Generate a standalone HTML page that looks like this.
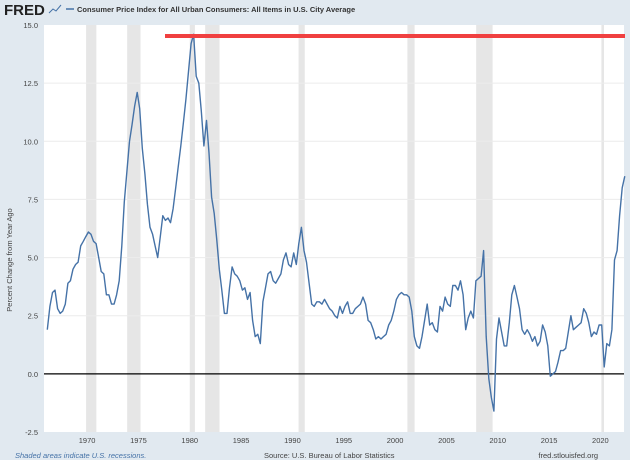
<!DOCTYPE html>
<html><head><meta charset="utf-8"><style>
body{margin:0;background:#e1e9f0;font-family:"Liberation Sans",sans-serif;}
#wrap{position:relative;width:630px;height:460px;overflow:hidden;background:#e1e9f0;}
</style></head><body>
<div id="wrap">
<svg id="chart" width="630" height="460"></svg>
</div>
<script>
const yTicks=[-2.5,0,2.5,5,7.5,10,12.5,15];
const yTickLabels=["-2.5","0.0","2.5","5.0","7.5","10.0","12.5","15.0"];
const xTicks=[1970,1975,1980,1985,1990,1995,2000,2005,2010,2015,2020];
const recessions=[[1969.9,1970.9],[1973.9,1975.2],[1980.0,1980.5],[1981.5,1982.9],[1990.6,1991.2],[2001.2,2001.9],[2007.9,2009.5],[2020.1,2020.35]];
const startYear=1966;
const cpi=[
1.9,2.9,3.5,3.6, 2.8,2.6,2.7,3.0, 3.9,4.0,4.5,4.7, 4.8,5.5,5.7,5.9,
6.1,6.0,5.7,5.6, 5.0,4.4,4.3,3.4, 3.4,3.0,3.0,3.4, 4.0,5.5,7.4,8.7,
10.0,10.7,11.5,12.1, 11.4,9.7,8.6,7.3, 6.3,6.0,5.5,5.0, 5.9,6.8,6.6,6.7,
6.5,7.1,8.0,8.9, 9.8,10.8,11.8,13.0, 14.2,14.6,12.8,12.5, 11.3,9.8,10.9,9.5,
7.6,6.9,5.8,4.5, 3.6,2.6,2.6,3.7, 4.6,4.3,4.2,4.0, 3.6,3.7,3.2,3.5,
2.3,1.6,1.7,1.3, 3.1,3.7,4.3,4.4, 4.0,3.9,4.1,4.3, 4.9,5.2,4.7,4.6,
5.2,4.7,5.6,6.3, 5.3,4.8,3.9,3.0, 2.9,3.1,3.1,3.0, 3.2,3.0,2.8,2.7,
2.5,2.4,2.9,2.6, 2.9,3.1,2.6,2.6, 2.8,2.9,3.0,3.3, 3.0,2.3,2.2,1.9,
1.5,1.6,1.5,1.6, 1.7,2.1,2.3,2.7, 3.2,3.4,3.5,3.4, 3.4,3.3,2.7,1.6,
1.2,1.1,1.6,2.3, 3.0,2.1,2.2,1.9, 1.8,2.9,2.7,3.3, 3.0,2.9,3.8,3.8,
3.6,4.0,3.4,1.9, 2.4,2.7,2.4,4.0, 4.1,4.2,5.3,1.6, -0.2,-1.0,-1.6,1.5,
2.4,1.8,1.2,1.2, 2.2,3.4,3.8,3.3, 2.8,1.9,1.7,1.9, 1.7,1.4,1.6,1.2,
1.4,2.1,1.8,1.2, -0.1,0.0,0.1,0.5, 1.0,1.0,1.1,1.8, 2.5,1.9,2.0,2.1,
2.2,2.8,2.6,2.2, 1.6,1.8,1.7,2.1, 2.1,0.3,1.3,1.2, 1.9,4.9,5.3,6.8,
8.0,8.5];
const NS="http://www.w3.org/2000/svg";
const svg=document.getElementById('chart');
const L=44,R=624,T=25,B=432,x0=1965.8,x1=2022.3,y0=-2.5,y1=15;
const X=v=>L+(v-x0)/(x1-x0)*(R-L);
const Y=v=>B-(v-y0)/(y1-y0)*(B-T);
function mk(t,a){const e=document.createElementNS(NS,t);for(const k in a)e.setAttribute(k,a[k]);svg.appendChild(e);return e;}
let e=mk('rect',{x:L,y:T,width:R-L,height:B-T,fill:'#fff'});


recessions.forEach(r=>{const s=mk('rect',{x:X(r[0]),y:T,width:X(r[1])-X(r[0]),height:B-T,fill:'#e6e6e6'});

});
yTicks.forEach((v,i)=>{
if(v!==0&&v!==15&&v!==-2.5){const g=mk('line',{x1:L,x2:R,y1:Y(v),y2:Y(v),stroke:'#ececec','stroke-width':1});

}
const t=mk('text',{x:L-6,y:Y(v)+3,'text-anchor':'end','font-size':7.5,fill:'#444'});t.textContent=yTickLabels[i];

});
xTicks.forEach(v=>{const t=mk('text',{x:X(v),y:443,'text-anchor':'middle','font-size':7.5,fill:'#444'});t.textContent=v;

});
e=mk('line',{x1:L,x2:R,y1:Y(0),y2:Y(0),stroke:'#000','stroke-width':1.3});


const pts=cpi.map((v,i)=>X(startYear+i*0.25+0.125).toFixed(1)+','+Y(v).toFixed(1)).join(' ');
e=mk('polyline',{points:pts,fill:'none',stroke:'#4572a7','stroke-width':1.4,'stroke-linejoin':'round'});


e=mk('line',{x1:165,x2:625,y1:36,y2:36,stroke:'#f04040','stroke-width':4});


e=mk('text',{x:12,y:260,'font-size':7.5,fill:'#444','text-anchor':'middle',transform:'rotate(-90 12 260)'});e.textContent='Percent Change from Year Ago';


e=mk('text',{x:4,y:15,'font-size':15,'font-weight':'bold',fill:'#222'});e.textContent='FRED';


e=mk('polyline',{points:'49,13 53,9 56,11 61,5',fill:'none',stroke:'#4572a7','stroke-width':1});


e=mk('line',{x1:66,x2:74,y1:9,y2:9,stroke:'#4572a7','stroke-width':1.5});


e=mk('text',{x:77,y:12,'font-size':7.5,'font-weight':'bold',fill:'#333'});e.textContent='Consumer Price Index for All Urban Consumers: All Items in U.S. City Average';


e=mk('text',{x:15,y:458,'font-size':7.5,'font-style':'italic',fill:'#4572a7'});e.textContent='Shaded areas indicate U.S. recessions.';


e=mk('text',{x:264,y:458,'font-size':7.5,fill:'#444'});e.textContent='Source: U.S. Bureau of Labor Statistics';


e=mk('text',{x:598,y:458,'font-size':7.5,fill:'#444','text-anchor':'end'});e.textContent='fred.stlouisfed.org';


</script>
</body></html>
